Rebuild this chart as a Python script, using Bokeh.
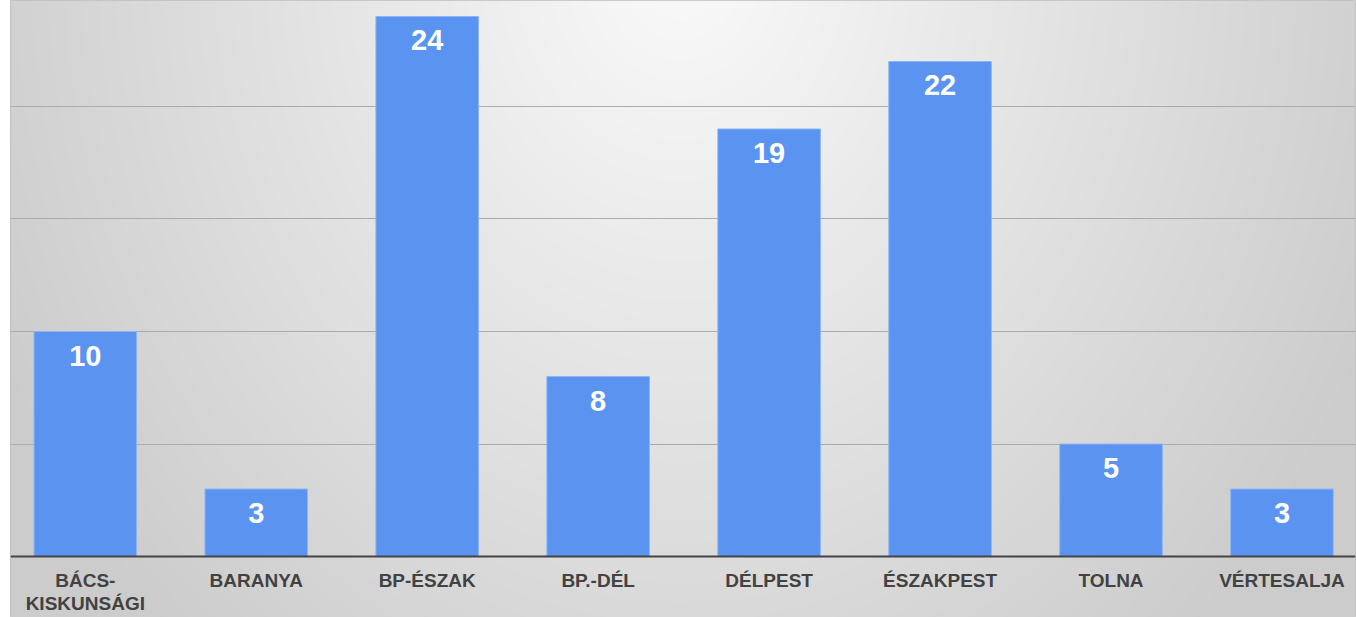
import numpy as np
from bokeh.plotting import figure
from bokeh.models import Grid, FixedTicker, Span, ColumnDataSource
from bokeh.core.properties import value
from bokeh.embed import file_html
from bokeh.resources import INLINE

# ---- data ----
categories = ["BÁCS-\nKISKUNSÁGI", "BARANYA", "BP-ÉSZAK", "BP.-DÉL",
              "DÉLPEST", "ÉSZAKPEST", "TOLNA", "VÉRTESALJA"]
values = [10, 3, 24, 8, 19, 22, 5, 3]
grid_ticks = [5, 10, 15, 20]

# ---- layout ----
W, H = 1356, 617
LB, RB = 10, 1
x_start, x_end = 0.0625, 7.930
y_start, y_end = -2.711, 24.711

p = figure(width=W, height=H, output_backend="svg", toolbar_location=None,
           x_range=(x_start, x_end), y_range=(y_start, y_end),
           x_axis_type=None, y_axis_type=None, min_border=0,
           min_border_left=LB, min_border_right=RB,
           outline_line_color="#BDBDBD", background_fill_color="#DDDDDD",
           border_fill_color="white")

# radial gradient background (pixel space)
FW = W - LB - RB
jj, ii = np.meshgrid(np.arange(FW) + 0.5 + LB, np.arange(H) + 0.5)
d = np.sqrt((jj - 680) ** 2 + (0.83 * (ii + 40)) ** 2)
c = np.clip(250 - 0.06 * d, 204, 250)
c = c[::-1, :].astype(np.uint32)
img = np.empty((H, FW), dtype=np.uint32)
view = img.view(dtype=np.uint8).reshape((H, FW, 4))
view[:, :, 0] = c
view[:, :, 1] = c
view[:, :, 2] = c
view[:, :, 3] = 255
r = p.image_rgba(image=[img], x=x_start, y=y_start, dw=x_end - x_start, dh=y_end - y_start)
r.level = "image"

p.add_layout(Grid(dimension=1, ticker=FixedTicker(ticks=grid_ticks),
                  grid_line_color="#ABABAB", grid_line_width=1))

xs = [i + 0.5 for i in range(len(categories))]
src = ColumnDataSource(dict(x=xs, top=values, lab=[str(v) for v in values]))
p.vbar(x="x", top="top", bottom=0, width=0.6, source=src,
       fill_color="#5A93F0", line_color="#8DB5F6", line_width=1)

p.text(x="x", y="top", text="lab", source=src, text_color="white",
       text_font=value("Liberation Sans"), text_font_style="bold",
       text_font_size="29px", text_align="center", text_baseline="middle",
       y_offset=24)

line1 = [cname.split("\n")[0] for cname in categories]
line2 = [cname.split("\n")[1] if "\n" in cname else "" for cname in categories]
lsrc = ColumnDataSource(dict(x=xs, y=[0] * len(xs), l1=line1, l2=line2))
for col, off in (("l1", 24), ("l2", 47)):
    p.text(x="x", y="y", text=col, source=lsrc, text_color="#424242",
           text_font=value("Liberation Sans"), text_font_style="bold",
           text_font_size="19px", text_align="center", text_baseline="alphabetic",
           y_offset=off)

p.add_layout(Span(location=0, dimension="width", line_color="#444444", line_width=2))

open("out.html", "w").write(file_html(p, INLINE))
